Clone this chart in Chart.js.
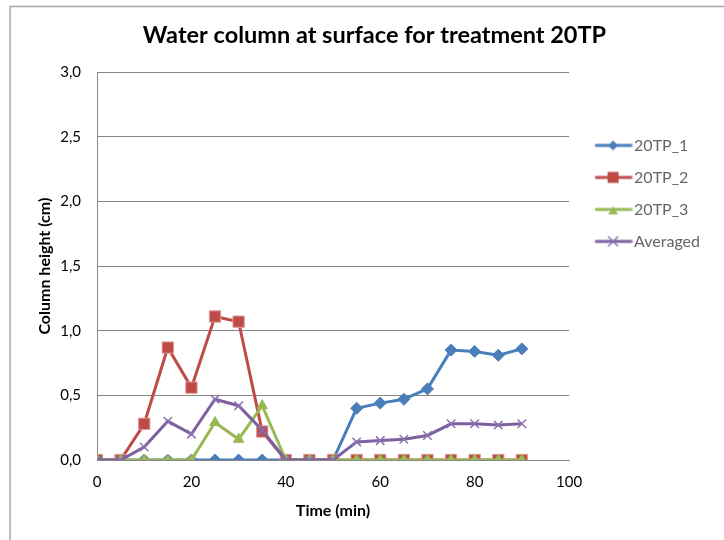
<!DOCTYPE html>
<html>
<head>
<meta charset="utf-8">
<script src="https://cdn.jsdelivr.net/npm/chart.js@4/dist/chart.umd.min.js"></script>
<style>
  html, body { margin: 0; padding: 0; background: #fff; }
  #wrap { width: 724px; height: 540px; }
</style>
</head>
<body>
<div id="wrap"><canvas id="chart" width="724" height="540"></canvas></div>
<script>
// time points (min)
const times = [0, 5, 10, 15, 20, 25, 30, 35, 40, 45, 50, 55, 60, 65, 70, 75, 80, 85, 90];
const tp1 = [0, 0, 0, 0, 0, 0, 0, 0, 0, 0, 0, 0.40, 0.44, 0.47, 0.55, 0.85, 0.84, 0.81, 0.86];
const tp2 = [0, 0, 0.28, 0.87, 0.56, 1.11, 1.07, 0.22, 0, 0, 0, 0, 0, 0, 0, 0, 0, 0, 0];
const tp3 = [0, 0, 0, 0, 0, 0.29, 0.16, 0.42, 0, 0, 0, 0, 0, 0, 0, 0, 0, 0, 0];
const averaged = [0, 0, 0.10, 0.30, 0.20, 0.47, 0.42, 0.23, 0, 0, 0, 0.14, 0.15, 0.16, 0.19, 0.28, 0.28, 0.27, 0.28];
const seriesNames = ['20TP_1', '20TP_2', '20TP_3', 'Averaged'];

const FONT = 'Lato, "Open Sans", sans-serif';
const toPoints = arr => arr.map((v, i) => ({ x: times[i], y: v }));

// excel style legend key: a short line with the marker in the middle
function legendIcon(color, marker, markerColor) {
    const c = document.createElement('canvas');
    c.width = 54;
    c.height = 16;
    const g = c.getContext('2d');
    g.strokeStyle = color;
    g.lineWidth = 3;
    g.beginPath();
    g.moveTo(16.5, 8);
    g.lineTo(53.5, 8);
    g.stroke();
    const mx = 34.5, my = 8;
    g.fillStyle = markerColor || color;
    g.strokeStyle = markerColor || color;
    g.beginPath();
    if (marker === 'diamond') {
        g.moveTo(mx, my - 5); g.lineTo(mx + 5, my); g.lineTo(mx, my + 5); g.lineTo(mx - 5, my);
        g.closePath(); g.fill();
    } else if (marker === 'square') {
        g.rect(mx - 5.5, my - 5.5, 11, 11); g.fill();
    } else if (marker === 'triangle') {
        g.moveTo(mx, my - 3); g.lineTo(mx + 5, my + 5); g.lineTo(mx - 5, my + 5);
        g.closePath(); g.fill();
    } else {
        g.lineWidth = 1.5;
        g.moveTo(mx - 5, my - 5); g.lineTo(mx + 5, my + 5);
        g.moveTo(mx + 5, my - 5); g.lineTo(mx - 5, my + 5);
        g.stroke();
    }
    return c;
}

const icons = [
    legendIcon('#4a7ebb', 'diamond'),
    legendIcon('#be4b48', 'square'),
    legendIcon('#98b954', 'triangle'),
    legendIcon('#7d60a0', 'cross', '#8a72b0')
];

// white background + sheet frame
const framePlugin = {
    id: 'frame',
    beforeDraw(chart) {
        const ctx = chart.ctx;
        ctx.save();
        ctx.fillStyle = '#fff';
        ctx.fillRect(0, 0, chart.width, chart.height);
        ctx.strokeStyle = '#a6a6a6';
        ctx.lineWidth = 1.5;
        ctx.beginPath();
        ctx.moveTo(10, chart.height);
        ctx.lineTo(10, 6.5);
        ctx.lineTo(chart.width, 6.5);
        ctx.stroke();
        ctx.restore();
    }
};

new Chart(document.getElementById('chart'), {
    type: 'line',
    data: {
        datasets: [
            {
                label: seriesNames[0],
                data: toPoints(tp1),
                borderColor: '#4a7ebb',
                backgroundColor: '#4a7ebb',
                borderWidth: 3,
                pointStyle: 'rectRot',
                pointRadius: 6,
                pointBorderWidth: 1,
                order: 3
            },
            {
                label: seriesNames[1],
                data: toPoints(tp2),
                borderColor: '#be4b48',
                backgroundColor: '#be4b48',
                pointBorderColor: '#dc9c9a',
                borderWidth: 3,
                pointStyle: 'rect',
                pointRadius: 8,
                pointBorderWidth: 1,
                order: 2
            },
            {
                label: seriesNames[2],
                data: toPoints(tp3),
                borderColor: '#98b954',
                backgroundColor: '#98b954',
                borderWidth: 3,
                pointStyle: 'triangle',
                pointRadius: 6,
                pointBorderWidth: 1,
                order: 1
            },
            {
                label: seriesNames[3],
                data: toPoints(averaged),
                borderColor: '#7d60a0',
                backgroundColor: '#7d60a0',
                pointBorderColor: '#8a72b0',
                borderWidth: 3,
                pointStyle: 'crossRot',
                pointRadius: 6,
                pointBorderWidth: 1.5,
                order: 0
            }
        ]
    },
    options: {
        responsive: false,
        animation: false,
        layout: {
            padding: { left: 39, right: 14, top: 0, bottom: 0 }
        },
        plugins: {
            title: {
                display: true,
                text: 'Water column at surface for treatment 20TP',
                color: '#000',
                font: { family: FONT, size: 23.5, weight: 'bold' },
                padding: { top: 21, bottom: 23 }
            },
            legend: {
                position: 'right',
                align: 'start',
                title: {
                    display: true,
                    text: '',
                    font: { size: 12 },
                    padding: { top: 107, bottom: 0 }
                },
                labels: {
                    usePointStyle: true,
                    pointStyleWidth: 41,
                    padding: 16,
                    color: '#000',
                    font: { family: FONT, size: 16 },
                    sort: (a, b) => a.datasetIndex - b.datasetIndex,
                    generateLabels: function(chart) {
                        return chart.data.datasets.map((ds, i) => ({
                            text: ds.label,
                            pointStyle: icons[i],
                            fillStyle: ds.backgroundColor,
                            strokeStyle: ds.borderColor,
                            lineWidth: 0,
                            hidden: false,
                            datasetIndex: i
                        }));
                    }
                }
            },
            tooltip: { enabled: false }
        },
        elements: {
            line: { tension: 0 }
        },
        scales: {
            x: {
                type: 'linear',
                min: 0,
                max: 100,
                grid: { display: false, drawTicks: false },
                border: { color: '#868686', width: 1 },
                ticks: {
                    stepSize: 20,
                    padding: 13,
                    color: '#000',
                    font: { family: FONT, size: 15 }
                },
                title: {
                    display: true,
                    text: 'Time (min)',
                    color: '#000',
                    font: { family: FONT, size: 16, weight: 'bold' },
                    padding: { top: 0, bottom: 20 }
                },
                afterFit: function(scale) {
                    scale.height = 80;
                }
            },
            y: {
                min: 0,
                max: 3,
                grid: { color: '#868686', drawTicks: false },
                border: { color: '#868686', width: 1 },
                ticks: {
                    stepSize: 0.5,
                    padding: 16,
                    color: '#000',
                    font: { family: FONT, size: 15 },
                    callback: function(value) {
                        return value.toFixed(1).replace('.', ',');
                    }
                },
                title: {
                    display: true,
                    text: 'Column height (cm)',
                    color: '#000',
                    font: { family: FONT, size: 16, weight: 'bold' },
                    padding: { top: -4, bottom: 0 }
                },
                afterFit: function(scale) {
                    scale.width = 58;
                }
            }
        }
    },
    plugins: [framePlugin]
});
</script>
</body>
</html>
